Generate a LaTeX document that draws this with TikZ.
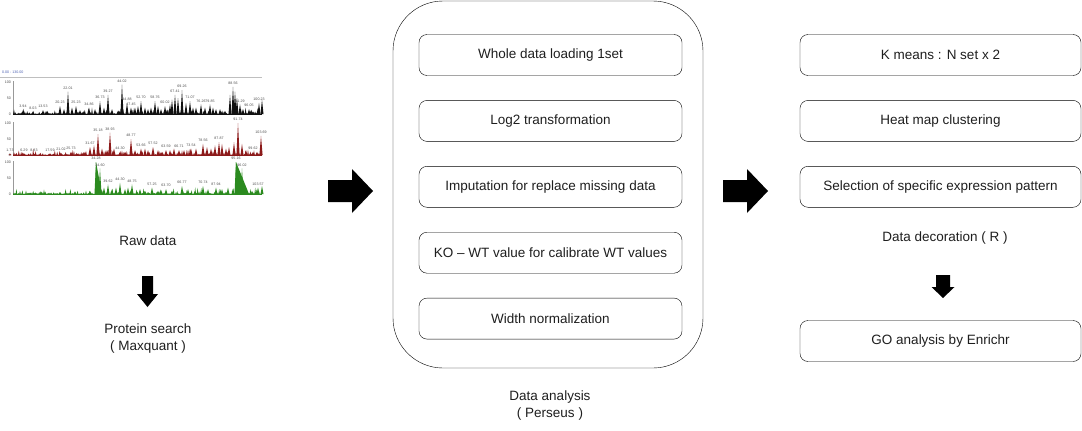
\documentclass[tikz,border=0pt]{standalone}
\usepackage{fontspec}
\setmainfont{Liberation Sans}
\usepackage{xcolor}
\usetikzlibrary{positioning}
\definecolor{InkGray}{HTML}{1E1E1E}
\definecolor{TraceBlack}{HTML}{111111}
\definecolor{TraceRed}{HTML}{8C1A1A}
\definecolor{TraceGreen}{HTML}{2B8A1F}
\definecolor{HeadBlue}{HTML}{4A5FB0}

\tikzset{
  stepbox/.style={draw=black, rounded corners=8pt, minimum width=263pt, minimum height=41pt,
    inner sep=0pt, font=\fontsize{13.5}{16}\selectfont, text=InkGray},
  caption/.style={align=center, inner sep=0pt, font=\fontsize{13.5}{17}\selectfont, text=InkGray},
  peaklab/.style={inner sep=0pt, font=\fontsize{3.6}{4}\selectfont, text=black!70},
  axislab/.style={inner sep=0pt, anchor=east, font=\fontsize{3.6}{4}\selectfont, text=black!70},
}

\begin{document}
\begin{tikzpicture}[x=1pt,y=-1pt]
  \useasboundingbox (0,0) rectangle (1082,431);

  % raw spectra
  \draw[black!25, line width=0.4pt] (0,77) -- (262,77);
  \node[peaklab, text=HeadBlue, anchor=west] (spechead) at (2,72.5) {0.00 - 130.00};
  \pgfmathsetseed{11}
  \foreach \base/\col in {114/TraceBlack,155/TraceRed,194/TraceGreen}{
    \begin{scope}[shift={(0,\base)}]
      \draw[black!40, line width=0.3pt] (13,-33) -- (13,0);
      \node[axislab] at (11,-32) {100};
      \node[axislab] at (11,-16) {50};
      \node[axislab] at (11,0) {0};
      \draw[\col, line width=0.7pt] (13,0) -- (262,0);
      \foreach \x in {14,15.2,...,261}{
        \pgfmathsetmacro\n{rnd*rnd*7}
        \fill[\col] (\x-0.8,0) -- (\x,-\n) -- (\x+0.8,0) -- cycle;
      }
    \end{scope}
  }
  \begin{scope}[shift={(0,114)}]
    \foreach \x/\h in {64/.15,72/.2,80/.12,84/.1,95/.15,104/.2,112/.15,118/.1,135/.2,138/.25,145/.2,148/.15,
        151/.2,158/.25,161/.15,170/.3,172/.45,178/.5,186/.35,193/.2,196/.2,205/.2,213/.2,216/.15,220/.15,
        225/.1,230/.6,235/.7,237/.5,243/.15,253/.08,262/.45}
      \fill[TraceBlack] (\x-1.5,0) -- (\x,-\h*32) -- (\x+1.5,0) -- cycle;
    \foreach \x/\h/\l in {23/.12/3.94,33/.08/8.03,43/.12/13.53,60/.25/20.23,68/.7/22.01,76/.25/25.23,
        89/.2/34.86,100/.4/36.73,108/.6/39.27,122/.92/44.02,127/.35/44.88,131/.2/47.45,141/.4/52.70,
        155/.4/58.76,165/.25/60.02,175/.6/67.41,182/.75/69.26,190/.4/71.07,201/.3/76.26,210/.3/79.85,
        233/.85/88.56,240/.3/91.29,249/.15/96.05,259/.35/100.23}{
      \fill[TraceBlack] (\x-1.5,0) -- (\x,-\h*32) -- (\x+1.5,0) -- cycle;
      \node[peaklab] (bk-\x) at (\x,-\h*32-3.5) {\l};
    }
  \end{scope}
  \begin{scope}[shift={(0,155)}]
    \foreach \x/\h in {85/.1,94/.3,102/.2,106/.15,114/.2,125/.1,135/.15,145/.2,148/.15,158/.15,162/.1,
        170/.15,174/.2,184/.15,196/.2,207/.25,211/.2,215/.3,222/.35,226/.2,229/.25,234/.4,242/.35,
        246/.15,257/.1}
      \fill[TraceRed] (\x-1.5,0) -- (\x,-\h*32) -- (\x+1.5,0) -- cycle;
    \foreach \x/\h/\l in {10/.03/1.73,24/.05/6.29,34/.04/8.83,50/.05/17.59,61/.06/21.02,71/.1/25.73,
        90/.25/31.67,98/.65/35.18,110/.7/38.93,120/.1/44.30,131/.5/48.77,141/.2/53.66,153/.25/57.52,
        166/.15/63.59,179/.15/66.71,191/.2/73.54,203/.35/78.56,219/.4/87.87,238/1.0/91.74,
        253/.1/99.62,261/.6/103.69}{
      \fill[TraceRed] (\x-1.6,0) -- (\x,-\h*32) -- (\x+1.6,0) -- cycle;
      \node[peaklab] (rd-\x) at (\x,-\h*32-3.5) {\l};
    }
  \end{scope}
  \begin{scope}[shift={(0,194)}]
    \fill[TraceGreen] (95,0) -- (96,-32) -- (102,0) -- cycle;
    \fill[TraceGreen] (235,0) -- (236,-32) -- (249,0) -- cycle;
    \foreach \x/\h in {30/.04,45/.05,60/.06,75/.08,90/.1,104/.2,112/.15,116/.2,125/.15,128/.2,
        140/.15,145/.1,158/.1,172/.1,188/.15,195/.1,208/.15,222/.15,228/.2,252/.1,262/.25}
      \fill[TraceGreen] (\x-1.5,0) -- (\x,-\h*32) -- (\x+1.5,0) -- cycle;
    \foreach \x/\h/\l in {96/1.0/34.28,100/.8/34.60,108/.3/39.62,120/.35/44.30,132/.3/48.75,
        152/.2/57.25,166/.15/63.70,182/.25/66.77,203/.25/70.74,216/.2/87.94,236/1.0/95.16,
        242/.8/96.02,258/.2/103.57}{
      \fill[TraceGreen] (\x-1.5,0) -- (\x,-\h*32) -- (\x+1.5,0) -- cycle;
      \node[peaklab] (gr-\x) at (\x,-\h*32-3.5) {\l};
    }
  \end{scope}

  \node[caption] (raw) at (148,241) {Raw data};
  \fill (142,276) -- (153,276) -- (153,294) -- (158,294) -- (147.5,307) -- (137,294) -- (142,294) -- cycle;
  \node[caption] (search) at (148,339) {Protein search\\( Maxquant )};

  % fat arrows between stages
  \fill (328,180) -- (352,180) -- (352,169) -- (373,191) -- (352,213) -- (352,202) -- (328,202) -- cycle;
  \fill (723,180) -- (747,180) -- (747,169) -- (768,191) -- (747,213) -- (747,202) -- (723,202) -- cycle;

  % Perseus block
  \node[draw=black, rounded corners=50pt, minimum width=310pt, minimum height=367pt] (perseus) at (548,184.5) {};
  \node[stepbox] (load) at (550.5,55) {Whole data loading 1set};
  \node[stepbox, below=24.5pt of load] (logt) {Log2 transformation};
  \node[stepbox, below=24.5pt of logt] (imput) {Imputation for replace missing data};
  \node[stepbox, below=24.5pt of imput] (kowt) {KO – WT value for calibrate WT values};
  \node[stepbox, below=24.5pt of kowt] (norm) {Width normalization};
  \node[caption] (perlab) at (550,406) {Data analysis\\( Perseus )};

  % R block
  \node[stepbox, minimum width=281pt] (kmeans) at (940.5,55) {K means : N set x 2};
  \node[stepbox, minimum width=281pt, below=24.5pt of kmeans] (heat) {Heat map clustering};
  \node[stepbox, minimum width=281pt, below=24.5pt of heat] (select) {Selection of specific expression pattern};
  \node[caption] (deco) at (945,238) {Data decoration ( R )};
  \fill (936,275) -- (950,275) -- (950,287) -- (954.5,287) -- (943,298) -- (931.5,287) -- (936,287) -- cycle;
  \node[stepbox, minimum width=281pt] (enrichr) at (940.5,341) {GO analysis by Enrichr};
\end{tikzpicture}
\end{document}
